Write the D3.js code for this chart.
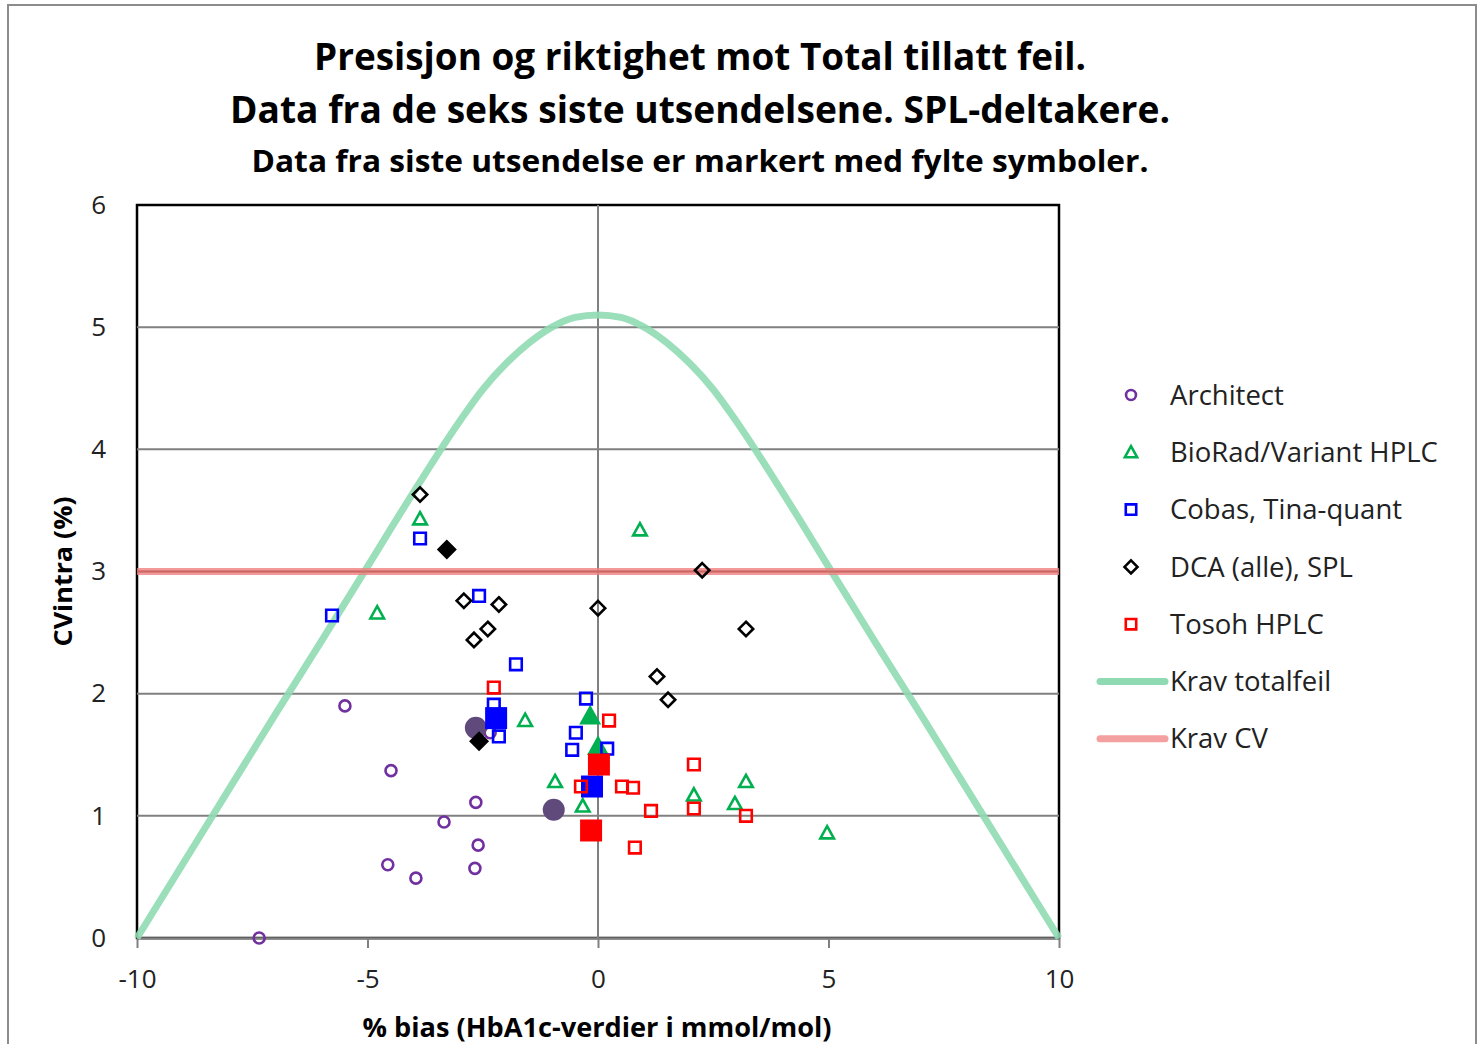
<!DOCTYPE html>
<html>
<head>
<meta charset="utf-8">
<script src="https://cdn.jsdelivr.net/npm/d3@7"></script>
<style>
  body { margin: 0; background: #fff; }
  svg { display: block; }
</style>
</head>
<body>
<svg id="chart" width="1479" height="1044"></svg>
<script>
// values: [bias %, CVintra %]
const architectOpen = [[-7.35, 0.00], [-5.49, 1.90], [-4.49, 1.37], [-3.34, 0.95], [-2.65, 1.11],
                       [-2.60, 0.76], [-2.67, 0.57], [-4.56, 0.60], [-3.95, 0.49], [-2.34, 1.68]];
const architectFilled = [[-2.65, 1.72], [-0.96, 1.05]];
const bioradOpen = [[-3.86, 3.43], [-4.79, 2.66], [0.91, 3.34], [-1.58, 1.78], [-0.93, 1.28],
                    [-0.33, 1.08], [2.08, 1.17], [3.21, 1.28], [2.97, 1.10], [4.97, 0.86]];
const bioradFilled = [[-0.17, 1.82], [0.00, 1.57]];
const cobasOpen = [[-3.86, 3.27], [-5.77, 2.64], [-2.58, 2.80], [-1.78, 2.24], [-2.26, 1.91],
                   [-2.15, 1.65], [-0.26, 1.96], [-0.48, 1.68], [-0.56, 1.54], [0.20, 1.55]];
const cobasFilled = [[-2.21, 1.80], [-0.13, 1.24]];
const dcaOpen = [[-3.86, 3.63], [-2.91, 2.76], [-2.15, 2.73], [-2.39, 2.53], [-2.69, 2.44],
                 [0.00, 2.70], [2.26, 3.01], [3.21, 2.53], [1.28, 2.14], [1.52, 1.95]];
const dcaFilled = [[-3.28, 3.18], [-2.58, 1.61]];
const tosohOpen = [[-2.26, 2.05], [0.24, 1.78], [-0.37, 1.24], [0.52, 1.24], [0.76, 1.23],
                   [1.15, 1.04], [2.08, 1.42], [2.08, 1.06], [3.21, 1.00], [0.80, 0.74]];
const tosohFilled = [[0.02, 1.42], [-0.15, 0.88]];

// Krav totalfeil curve
const curveBias = [-10, -9, -8, -7, -6, -5, -4, -3, -2.5, -2, -1.5, -1, -0.5, 0,
                   0.5, 1, 1.5, 2, 2.5, 3, 4, 5, 6, 7, 8, 9, 10];
const curveCV = [0, 0.61, 1.22, 1.83, 2.43, 3.04, 3.65, 4.23, 4.49, 4.70, 4.87, 5.00, 5.08, 5.10,
                 5.08, 5.00, 4.87, 4.70, 4.49, 4.23, 3.65, 3.04, 2.43, 1.83, 1.22, 0.61, 0];
const kravCV = 3;

const xTicks = [-10, -5, 0, 5, 10];
const yTicks = [0, 1, 2, 3, 4, 5, 6];

const titleLines = ['Presisjon og riktighet mot Total tillatt feil.',
                    'Data fra de seks siste utsendelsene. SPL-deltakere.',
                    'Data fra siste utsendelse er markert med fylte symboler.'];

const series = [
  {name: 'Architect', shape: 'circle', color: '#7030a0', open: architectOpen, filled: architectFilled, fillColor: '#604a7b'},
  {name: 'BioRad/Variant HPLC', shape: 'triangle', color: '#00b050', open: bioradOpen, filled: bioradFilled, fillColor: '#00b050'},
  {name: 'Cobas, Tina-quant', shape: 'square', color: '#0000ff', open: cobasOpen, filled: cobasFilled, fillColor: '#0000ff'},
  {name: 'DCA (alle), SPL', shape: 'diamond', color: '#000000', open: dcaOpen, filled: dcaFilled, fillColor: '#000000'},
  {name: 'Tosoh HPLC', shape: 'square', color: '#ff0000', open: tosohOpen, filled: tosohFilled, fillColor: '#ff0000'}
];

const font = "'Open Sans', 'Noto Sans', sans-serif";
const svg = d3.select('#chart');
const plotLeft = 137, plotRight = 1059, plotTop = 205, plotBottom = 938;

const x = d3.scaleLinear().domain([-10, 10]).range([plotLeft, plotRight]);
const y = d3.scaleLinear().domain([0, 6]).range([plotBottom, plotTop]);

// marker path of half-size h
const markerPath = (shape, h) => {
  if (shape === 'circle') return `M${-h},0A${h},${h} 0 1,0 ${h},0A${h},${h} 0 1,0 ${-h},0Z`;
  if (shape === 'square') return `M${-h},${-h}H${h}V${h}H${-h}Z`;
  if (shape === 'diamond') return `M0,${-h}L${h},0L0,${h}L${-h},0Z`;
  return `M0,${-h}L${h},${h * 0.8}L${-h},${h * 0.8}Z`;
};
const openSize = {circle: 5.5, square: 5.8, diamond: 7.2, triangle: 6.8};
const fillSize = {circle: 11, square: 11, diamond: 10, triangle: 11};

// outer frame
svg.append('rect').attr('x', 8).attr('y', 5).attr('width', 1468).attr('height', 1050)
  .attr('fill', '#fff').attr('stroke', '#8c8c8c').attr('stroke-width', 2);

// titles
const titleY = [70, 123, 172], titleLen = [772, 940, 897], titleSize = [38, 38, 31];
titleLines.forEach((t, i) => {
  svg.append('text').attr('x', 700).attr('y', titleY[i]).attr('text-anchor', 'middle')
    .attr('font-family', font).attr('font-weight', 'bold').attr('font-size', titleSize[i])
    .attr('textLength', titleLen[i]).attr('lengthAdjust', 'spacingAndGlyphs')
    .text(t);
});

// plot frame
svg.append('rect').attr('x', plotLeft).attr('y', plotTop)
  .attr('width', plotRight - plotLeft).attr('height', plotBottom - plotTop)
  .attr('fill', 'none').attr('stroke', '#000').attr('stroke-width', 2.5);

// gridlines
svg.append('g').selectAll('line').data(yTicks.filter(d => d > 0 && d < 6)).join('line')
  .attr('x1', plotLeft).attr('x2', plotRight).attr('y1', d => y(d)).attr('y2', d => y(d))
  .attr('stroke', '#808080').attr('stroke-width', 2);

// vertical axis line at 0
svg.append('line').attr('x1', x(0)).attr('x2', x(0)).attr('y1', plotTop).attr('y2', plotBottom)
  .attr('stroke', '#808080').attr('stroke-width', 2);

// x axis
const xAxis = svg.append('g').attr('transform', `translate(0,${plotBottom})`)
  .call(d3.axisBottom(x).tickValues(xTicks).tickFormat(d => String(d))
    .tickSize(10).tickSizeOuter(0).tickPadding(22));
xAxis.select('.domain').attr('stroke', '#808080').attr('stroke-width', 2.5);
xAxis.selectAll('.tick line').attr('stroke', '#808080').attr('stroke-width', 2);
xAxis.selectAll('.tick text').attr('font-family', font).attr('font-size', 26).attr('fill', '#222');

// y axis labels
const yAxis = svg.append('g').attr('transform', `translate(${plotLeft},0)`)
  .call(d3.axisLeft(y).tickValues(yTicks).tickFormat(d => String(d)).tickSize(0).tickPadding(31));
yAxis.select('.domain').remove();
yAxis.selectAll('.tick text').attr('font-family', font).attr('font-size', 26).attr('fill', '#222');

// axis titles
svg.append('text').attr('transform', `translate(72,${y(3)}) rotate(-90)`).attr('text-anchor', 'middle')
  .attr('font-family', font).attr('font-weight', 'bold').attr('font-size', 25)
  .attr('textLength', 150).attr('lengthAdjust', 'spacingAndGlyphs').text('CVintra (%)');
svg.append('text').attr('x', 597).attr('y', 1037).attr('text-anchor', 'middle')
  .attr('font-family', font).attr('font-weight', 'bold').attr('font-size', 26)
  .attr('textLength', 469).attr('lengthAdjust', 'spacingAndGlyphs').text('% bias (HbA1c-verdier i mmol/mol)');

// Krav lines
const line = d3.line().x(d => x(d[0])).y(d => y(d[1])).curve(d3.curveMonotoneX);
svg.append('path').datum(curveBias.map((b, i) => [b, curveCV[i]]))
  .attr('d', line).attr('fill', 'none').attr('stroke', '#8fdab2').attr('stroke-width', 7)
  .attr('stroke-opacity', 0.9);
svg.append('line').attr('x1', plotLeft).attr('x2', plotRight).attr('y1', y(kravCV)).attr('y2', y(kravCV))
  .attr('stroke', '#f08080').attr('stroke-width', 7).attr('stroke-opacity', 0.8);
svg.append('line').attr('x1', plotLeft).attr('x2', plotRight).attr('y1', y(kravCV)).attr('y2', y(kravCV))
  .attr('stroke', '#c0504d').attr('stroke-width', 2).attr('stroke-opacity', 0.55);

// markers
const marks = svg.append('g');
series.forEach(s => {
  marks.append('g').selectAll('path').data(s.open).join('path')
    .attr('transform', d => `translate(${x(d[0])},${y(d[1])})`)
    .attr('d', markerPath(s.shape, openSize[s.shape]))
    .attr('fill', 'none').attr('stroke', s.color).attr('stroke-width', 2.6);
  marks.append('g').selectAll('path').data(s.filled).join('path')
    .attr('transform', d => `translate(${x(d[0])},${y(d[1])})`)
    .attr('d', markerPath(s.shape, fillSize[s.shape]))
    .attr('fill', s.fillColor).attr('stroke', 'none');
});

// legend
const legY = d3.range(7).map(i => 395 + i * 57.3);
const legend = svg.append('g');
series.forEach((s, i) => {
  legend.append('path').attr('transform', `translate(1131,${legY[i]})`)
    .attr('d', markerPath(s.shape, openSize[s.shape] * 0.9))
    .attr('fill', 'none').attr('stroke', s.color).attr('stroke-width', 2.6);
  legend.append('text').attr('x', 1170).attr('y', legY[i]).attr('dy', '0.35em')
    .attr('font-family', font).attr('font-size', 27.5).attr('fill', '#222').text(s.name);
});
const lineLegend = [{name: 'Krav totalfeil', color: '#8fdab2'}, {name: 'Krav CV', color: '#f4a0a0'}];
lineLegend.forEach((l, j) => {
  const yy = legY[5 + j];
  legend.append('line').attr('x1', 1100).attr('x2', 1165).attr('y1', yy).attr('y2', yy)
    .attr('stroke', l.color).attr('stroke-width', 7).attr('stroke-linecap', 'round');
  legend.append('text').attr('x', 1170).attr('y', yy).attr('dy', '0.35em')
    .attr('font-family', font).attr('font-size', 27.5).attr('fill', '#222').text(l.name);
});
</script>
</body>
</html>
